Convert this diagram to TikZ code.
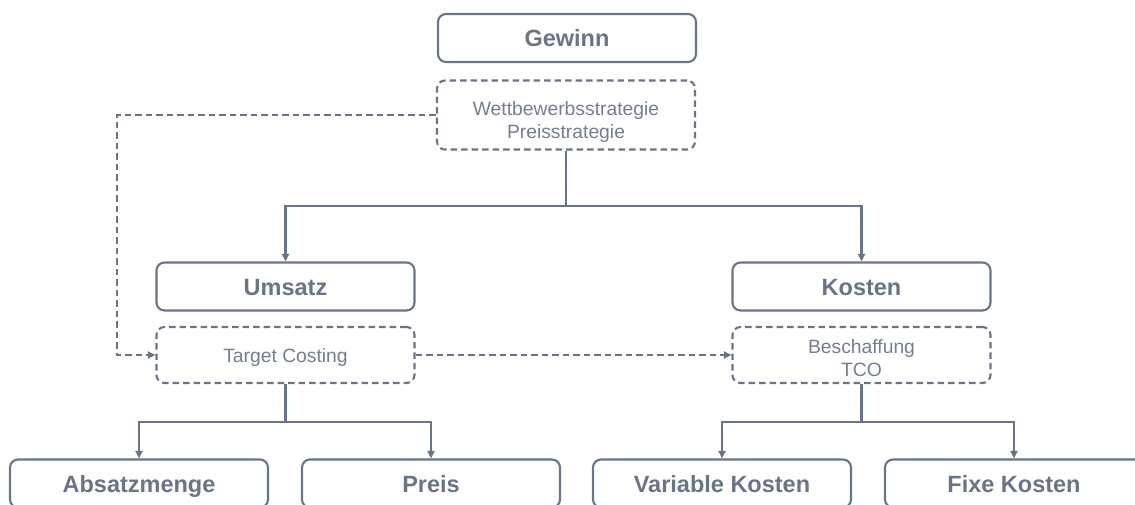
\documentclass[tikz,border=0pt]{standalone}
\usepackage{fontspec}
\setmainfont{Liberation Sans}
\usetikzlibrary{arrows.meta}
\definecolor{slate}{RGB}{105,116,133}
\definecolor{slatetext}{RGB}{116,126,142}
\tikzset{
  box/.style={draw=slate, line width=2.1pt, rounded corners=8pt,
    minimum width=258pt, minimum height=48pt, inner sep=0pt, text=slate,
    text height=17pt, text depth=0pt,
    font=\fontsize{23.5}{28}\selectfont\bfseries},
  hintbox/.style={draw=slate, line width=2.1pt, rounded corners=8pt, dash pattern=on 6.5pt off 4pt,
    minimum width=258pt, inner sep=0pt, text=slatetext, align=center,
    font=\fontsize{19.3}{23}\selectfont},
  link/.style={draw=slate, line width=2.1pt},
  arrowlink/.style={link, -{Triangle[length=7.5pt,width=7pt]}},
  dashlink/.style={arrowlink, dash pattern=on 6.5pt off 4pt},
}
\begin{document}
\begin{tikzpicture}[x=1pt,y=-1pt]
\useasboundingbox (0,0) rectangle (1135,504);

% top level
\node[box] (gewinn) at (567,38) {Gewinn};
\node[hintbox, minimum height=69pt] (strat) at (566,115)
  {\rule{0pt}{27pt}Wettbewerbsstrategie\\Preisstrategie};

% second level
\node[box] (umsatz) at (285.5,286.5) {Umsatz};
\node[hintbox, minimum height=56pt, text height=14pt, text depth=0pt] (target) at (285.5,355) {Target Costing};
\node[box] (kosten) at (861.5,286.5) {Kosten};
\node[hintbox, minimum height=56pt] (tco) at (861.5,355) {\rule{0pt}{20pt}Beschaffung\\TCO};

% third level
\node[box] (absatz) at (139,483.5) {Absatzmenge};
\node[box] (preis) at (431,483.5) {Preis};
\node[box] (varkost) at (722,483.5) {Variable Kosten};
\node[box] (fixkost) at (1014,483.5) {Fixe Kosten};

% branch points
\coordinate (j1) at (566,206);
\coordinate (j2) at (285.5,422);
\coordinate (j3) at (861.5,422);
\coordinate (lc) at (117,355);

\draw[link] (strat.south) -- (j1);
\draw[arrowlink] (j1) -| (umsatz.north);
\draw[arrowlink] (j1) -| (kosten.north);

\draw[link] (target.south) -- (j2);
\draw[arrowlink] (j2) -| (absatz.north);
\draw[arrowlink] (j2) -| (preis.north);

\draw[link] (tco.south) -- (j3);
\draw[arrowlink] (j3) -| (varkost.north);
\draw[arrowlink] (j3) -| (fixkost.north);

% strategy feedback links
\draw[dashlink] (strat.west) -| (lc) -- (target.west);
\draw[dashlink] (target.east) -- (tco.west);
\end{tikzpicture}
\end{document}
